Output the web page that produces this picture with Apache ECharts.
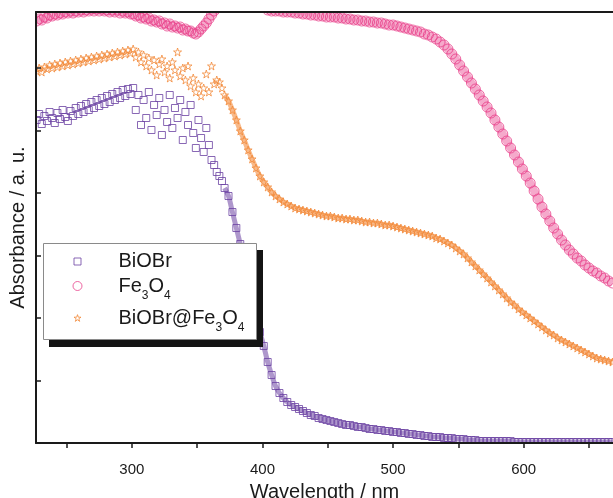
<!DOCTYPE html>
<html>
<head>
<meta charset="utf-8">
<script src="https://cdn.jsdelivr.net/npm/echarts@6.0.0/dist/echarts.min.js"></script>
<style>
html,body{margin:0;padding:0;background:#fff;}
#chart{width:613px;height:498px;}
</style>
</head>
<body>
<div id="chart"></div>
<script>
// Wavelength (nm)
const wavelength = [
  227,229,231,233,235,237,239,241,243,245,
  247,249,251,253,255,257,259,261,263,265,
  267,269,271,273,275,277,279,281,283,285,
  287,289,291,293,295,297,299,301,303,305,
  307,309,311,313,315,317,319,321,323,325,
  327,329,331,333,335,337,339,341,343,345,
  347,349,351,353,355,357,359,361,363,365,
  367,369,371,
  374,377,380,383,386,389,392,395,398,401,
  404,407,410,413,416,419,422,425,428,431,
  434,437,440,443,446,449,452,455,458,461,
  464,467,470,473,476,479,482,485,488,491,
  494,497,500,503,506,509,512,515,518,521,
  524,527,530,533,536,539,542,545,548,551,
  554,557,560,563,566,569,572,575,578,581,
  584,587,590,593,596,599,602,605,608,611,
  614,617,620,623,626,629,632,635,638,641,
  644,647,650,653,656,659,662,665,668
];

// Absorbance (a. u.)
const biobr = [
  3.23,3.29,3.19,3.27,3.22,3.31,3.25,3.20,3.30,3.24,
  3.33,3.26,3.22,3.32,3.27,3.35,3.29,3.37,3.31,3.39,
  3.33,3.41,3.35,3.43,3.37,3.45,3.39,3.47,3.41,3.49,
  3.43,3.51,3.45,3.53,3.47,3.54,3.49,3.55,3.33,3.48,
  3.18,3.43,3.25,3.51,3.13,3.38,3.28,3.45,3.08,3.33,
  3.21,3.48,3.15,3.35,3.25,3.43,3.03,3.31,3.18,3.38,
  3.10,2.95,3.23,3.05,2.91,3.15,2.98,2.83,2.78,2.71,
  2.67,2.62,2.55,
  2.47,2.31,2.15,1.99,1.81,1.63,1.45,1.27,1.11,0.97,
  0.81,0.68,0.57,0.50,0.45,0.41,0.38,0.36,0.34,0.32,
  0.30,0.28,0.27,0.25,0.24,0.23,0.22,0.21,0.20,0.19,
  0.18,0.18,0.17,0.16,0.16,0.15,0.14,0.14,0.13,0.13,
  0.12,0.12,0.11,0.11,0.10,0.10,0.09,0.09,0.08,0.08,
  0.07,0.07,0.06,0.06,0.06,0.05,0.05,0.05,0.04,0.04,
  0.04,0.03,0.03,0.03,0.02,0.02,0.02,0.02,0.02,0.02,
  0.02,0.02,0.02,0.01,0.01,0.01,0.01,0.01,0.01,0.01,
  0.01,0.01,0.01,0.01,0.01,0.01,0.01,0.01,0.01,0.01,
  0.01,0.01,0.01,0.01,0.01,0.01,0.01,0.01,0.01
];

const fe3o4 = [
  4.22,4.24,4.23,4.26,4.25,4.28,4.27,4.29,4.28,4.30,
  4.29,4.31,4.30,4.32,4.30,4.32,4.31,4.33,4.31,4.33,
  4.32,4.34,4.32,4.34,4.32,4.34,4.32,4.33,4.31,4.33,
  4.31,4.33,4.30,4.32,4.30,4.31,4.29,4.29,4.27,4.28,
  4.25,4.26,4.24,4.25,4.22,4.23,4.21,4.22,4.19,4.20,
  4.17,4.19,4.16,4.17,4.15,4.16,4.13,4.14,4.12,4.12,
  4.10,4.09,4.11,4.14,4.17,4.20,4.24,4.28,4.32,4.35,
  4.39,4.43,4.47,
  4.51,4.53,4.54,4.54,4.53,4.51,4.48,4.45,4.41,4.36,
  4.33,4.32,4.32,4.32,4.31,4.31,4.31,4.30,4.30,4.29,
  4.29,4.28,4.28,4.27,4.27,4.26,4.26,4.26,4.25,4.25,
  4.24,4.24,4.23,4.23,4.22,4.22,4.21,4.21,4.20,4.20,
  4.19,4.18,4.18,4.17,4.16,4.15,4.14,4.13,4.12,4.11,
  4.09,4.08,4.06,4.04,4.01,3.98,3.94,3.89,3.84,3.78,
  3.72,3.66,3.60,3.54,3.48,3.42,3.36,3.30,3.23,3.16,
  3.09,3.02,2.95,2.88,2.81,2.74,2.67,2.60,2.52,2.44,
  2.36,2.29,2.22,2.15,2.09,2.03,1.98,1.93,1.89,1.85,
  1.82,1.78,1.75,1.72,1.70,1.67,1.65,1.62,1.60
];

const biobrFe3o4 = [
  3.72,3.75,3.71,3.76,3.74,3.78,3.75,3.79,3.76,3.80,
  3.77,3.81,3.78,3.82,3.79,3.83,3.80,3.84,3.81,3.85,
  3.82,3.86,3.83,3.87,3.84,3.88,3.85,3.89,3.86,3.90,
  3.87,3.91,3.88,3.92,3.89,3.93,3.90,3.94,3.86,3.91,
  3.81,3.88,3.77,3.85,3.73,3.83,3.68,3.79,3.84,3.71,
  3.77,3.65,3.81,3.73,3.91,3.67,3.75,3.63,3.77,3.57,
  3.65,3.51,3.59,3.47,3.55,3.69,3.51,3.77,3.59,3.63,
  3.61,3.55,3.48,
  3.42,3.33,3.23,3.12,3.03,2.93,2.84,2.75,2.67,2.61,
  2.56,2.51,2.47,2.44,2.41,2.39,2.37,2.35,2.34,2.33,
  2.32,2.31,2.30,2.29,2.28,2.27,2.27,2.26,2.25,2.25,
  2.24,2.24,2.23,2.23,2.22,2.21,2.21,2.20,2.20,2.19,
  2.18,2.18,2.17,2.16,2.15,2.14,2.13,2.12,2.11,2.10,
  2.09,2.08,2.07,2.05,2.04,2.02,2.00,1.98,1.95,1.92,
  1.89,1.85,1.81,1.77,1.73,1.69,1.65,1.61,1.57,1.53,
  1.49,1.45,1.41,1.38,1.34,1.31,1.28,1.25,1.22,1.19,
  1.16,1.13,1.10,1.08,1.05,1.03,1.01,0.99,0.97,0.95,
  0.93,0.91,0.89,0.87,0.85,0.84,0.83,0.82,0.81
];

const seriesNames = ['BiOBr', 'Fe3O4', 'BiOBr@Fe3O4'];
const xTickValues = [250, 300, 350, 400, 450, 500, 550, 600, 650];
const xLabelValues = [300, 400, 500, 600];

const FONT = '"Liberation Sans", Arial, sans-serif';
const TXT = '#1a1a1a';
const C_BIOBR = '#6b42a3';
const C_FE = '#e8418b';
const C_COMP = '#f38a3a';
const STAR = 'path://M50,2 L61,36 L97,36 L68,57 L79,92 L50,71 L21,92 L32,57 L3,36 L39,36 Z';

function pairs(vals) { return wavelength.map((w, i) => [w, vals[i]]); }
// the smooth part of a curve (from 374 nm on), where the dense points form a continuous band
function smoothPart(vals) { return pairs(vals).filter(p => p[0] >= 371); }

const chart = echarts.init(document.getElementById('chart'), null, {renderer: 'canvas'});

const rich = {
  m: {fontSize: 20, fontFamily: FONT, color: TXT},
  s: {fontSize: 12, fontFamily: FONT, color: TXT, padding: [20, 0, 0, 0]}
};
function legendFmt(name) {
  if (name === 'Fe3O4') return '{m|Fe}{s|3}{m|O}{s|4}';
  if (name === 'BiOBr@Fe3O4') return '{m|BiOBr@Fe}{s|3}{m|O}{s|4}';
  return name;
}
function mkLegend(name, left, top, size, padLeft) {
  return {
    data: [name], orient: 'vertical', left: left, top: top, padding: 0,
    itemWidth: size, itemHeight: size, itemGap: 0, selectedMode: false, z: 10,
    itemStyle: {borderWidth: 1},
    formatter: legendFmt,
    textStyle: {fontSize: 20, fontFamily: FONT, color: TXT, rich: rich, padding: [0, 0, 0, padLeft]}
  };
}

const bandLine = (name, vals, color, width) => ({
  name: name, type: 'line', data: vals, smooth: 0.3, symbol: 'none', silent: true,
  clip: false, z: 1, lineStyle: {color: color, width: width}
});

const option = {
  backgroundColor: '#fff',
  animation: false,
  grid: {left: 36, right: 0, top: 12, bottom: 55, containLabel: false, outerBoundsMode: 'none'},
  legend: [
    mkLegend('BiOBr', 73.5, 251.5, 7, 32.5),
    mkLegend('Fe3O4', 72.5, 276, 9, 31.5),
    mkLegend('BiOBr@Fe3O4', 73.5, 308, 7, 32.5)
  ],
  xAxis: [{
    type: 'value', min: 226.6, max: 668.4, z: 6,
    name: 'Wavelength / nm', nameLocation: 'middle', nameGap: 39,
    nameTextStyle: {fontSize: 20, fontFamily: FONT, color: TXT},
    axisLine: {show: true, onZero: false, lineStyle: {color: TXT, width: 2}},
    axisTick: {show: true, inside: false, length: 5, lineStyle: {color: TXT, width: 1.5}, customValues: xTickValues},
    axisLabel: {show: true, fontSize: 15, fontFamily: FONT, color: TXT, margin: 19, customValues: xLabelValues},
    splitLine: {show: false}
  }, {
    type: 'value', position: 'top', min: 226.6, max: 668.4, z: 6,
    axisLine: {show: true, onZero: false, lineStyle: {color: TXT, width: 2}},
    axisTick: {show: false}, axisLabel: {show: false}, splitLine: {show: false}
  }],
  yAxis: {
    type: 'value', min: 0, max: 4.31, interval: 0.625, z: 6,
    name: 'Absorbance / a. u.', nameLocation: 'middle', nameGap: 8,
    nameTextStyle: {fontSize: 20, fontFamily: FONT, color: TXT},
    axisLine: {show: true, onZero: false, lineStyle: {color: TXT, width: 2}},
    axisTick: {show: true, inside: true, length: 5, lineStyle: {color: TXT, width: 1.5}},
    axisLabel: {show: false},
    splitLine: {show: false}
  },
  graphic: [
    {type: 'rect', silent: true, z: 5, shape: {x: 0, y: 0, width: 613, height: 11}, style: {fill: '#fff'}},
    {type: 'rect', silent: true, z: 5, shape: {x: 29, y: 0, width: 6, height: 452}, style: {fill: '#fff'}},
    {type: 'rect', silent: true, z: 5, shape: {x: 29, y: 444, width: 584, height: 8}, style: {fill: '#fff'}},
    {type: 'rect', silent: true, z: 9, shape: {x: 49, y: 250, width: 214, height: 97}, style: {fill: '#141414'}},
    {type: 'rect', silent: true, z: 9, shape: {x: 43.5, y: 243.5, width: 213, height: 96}, style: {fill: '#fff', stroke: '#8a8a8a', lineWidth: 1}}
  ],
  series: [
    bandLine('BiOBr band', smoothPart(biobr), 'rgba(107,66,163,0.55)', 5),
    bandLine('Fe3O4 band', pairs(fe3o4), 'rgba(232,65,139,0.45)', 8),
    bandLine('BiOBr@Fe3O4 band', smoothPart(biobrFe3o4), 'rgba(243,138,58,0.6)', 5),
    {
      name: seriesNames[0], type: 'scatter', data: pairs(biobr), clip: false,
      symbol: 'rect', symbolSize: 7,
      itemStyle: {color: 'rgba(255,255,255,0)', borderColor: C_BIOBR, borderWidth: 1}
    },
    {
      name: seriesNames[1], type: 'scatter', data: pairs(fe3o4), clip: false,
      symbol: 'circle', symbolSize: 10,
      itemStyle: {color: 'rgba(255,255,255,0)', borderColor: C_FE, borderWidth: 1}
    },
    {
      name: seriesNames[2], type: 'scatter', data: pairs(biobrFe3o4), clip: false,
      symbol: STAR, symbolSize: 8,
      itemStyle: {color: 'rgba(255,255,255,0)', borderColor: C_COMP, borderWidth: 1}
    }
  ]
};
chart.setOption(option);
</script>
</body>
</html>
